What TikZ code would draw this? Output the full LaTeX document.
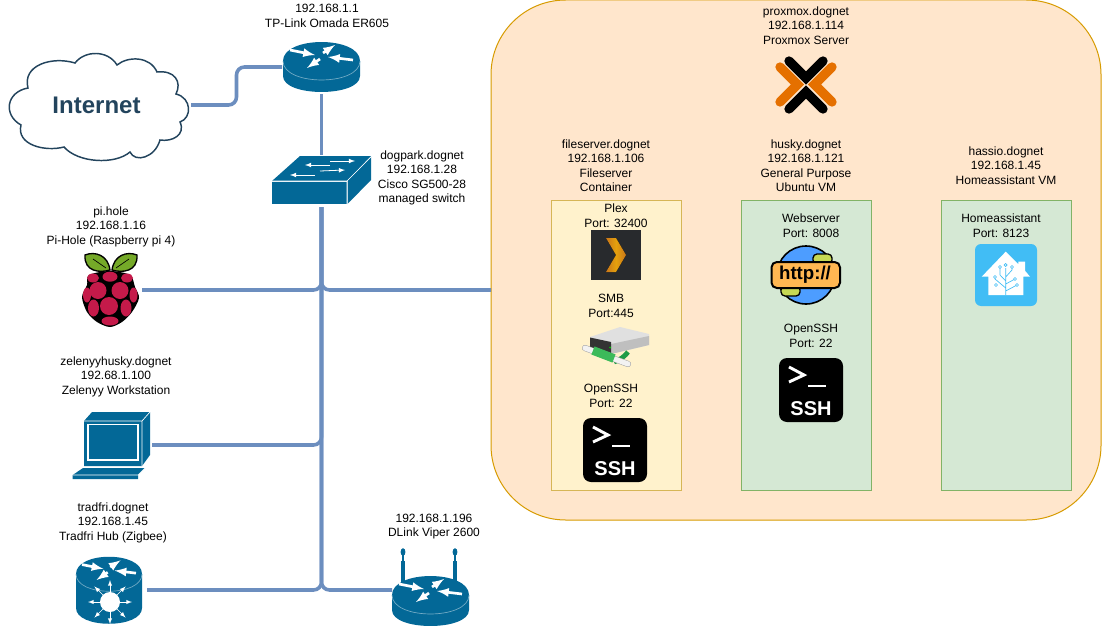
\documentclass[tikz,border=0pt]{standalone}
\usepackage{xcolor}
\usepackage{fontspec}
\setmainfont{Liberation Sans}
\usepackage{tikz}
\usetikzlibrary{arrows, positioning}

\definecolor{ciscoblue}{HTML}{036897}
\definecolor{linkblue}{HTML}{6C8EBF}
\definecolor{cloudline}{HTML}{23445D}
\definecolor{hostfill}{HTML}{FFE6CC}
\definecolor{hostline}{HTML}{D79B00}
\definecolor{ctfill}{HTML}{FFF2CC}
\definecolor{ctline}{HTML}{D6B656}
\definecolor{vmfill}{HTML}{D5E8D4}
\definecolor{vmline}{HTML}{82B366}
\definecolor{pxorange}{HTML}{E57000}
\definecolor{berry}{HTML}{C51A4A}
\definecolor{leaf}{HTML}{75A928}
\definecolor{hablue}{HTML}{41BDF5}
\definecolor{plexback}{HTML}{282A2D}
\definecolor{plexgold}{HTML}{E5A00D}
\definecolor{plexdark}{HTML}{C9771A}
\definecolor{globeblue}{HTML}{4D9DFF}
\definecolor{globeland}{HTML}{C6D854}
\definecolor{httpband}{HTML}{FFB752}
\definecolor{tubegreen}{HTML}{3CBA5A}
\definecolor{tubedark}{HTML}{1F9C46}

\tikzset{
	% Four arrows on a router top, around its centre
	pics/routerarrows/.style={code={
		\draw[white, line width=2pt, -latex] (-31.5,-11) -- (-6.5,-6);
		\draw[white, line width=2pt, -latex] (1.5,-8) -- (13.5,-16);
		\draw[white, line width=2pt, -latex] (31.5,-1) -- (6.5,-4);
		\draw[white, line width=2pt, -latex] (-1.5,-2) -- (-14.5,7);
	}},
	% Flat router, origin at the centre of its top
	pics/routericon/.style={code={
		\fill[ciscoblue] (-38.5,0) .. controls (-38.5,-25.3) and (38.5,-25.3) .. (38.5,0)
			-- (38.5,15) .. controls (38.5,36.3) and (-38.5,36.3) .. (-38.5,15) -- cycle;
		\draw[white!45!ciscoblue, line width=0.5pt] (-38.5,0) .. controls (-38.5,25.3) and (38.5,25.3) .. (38.5,0);
		\pic {routerarrows};
	}},
	% Terminal tile, origin at its centre
	pics/sshicon/.style={code={
		\fill[black, rounded corners=6pt] (-32,-32) rectangle (32,32);
		\draw[white, line width=2.2pt] (-22,-23) -- (-7,-15) -- (-22,-8);
		\draw[white, line width=2.2pt] (-3,-4) -- (15,-4);
		\node[text=white, font=\fontsize{15}{15}\selectfont\bfseries] (-text) at (0,19) {SSH};
	}}
}

\begin{document}
\begin{tikzpicture}[
		x=0.75pt,
		y=-0.75pt,
		every node/.style={inner sep=0pt, outer sep=0pt},
		desc/.style={align=center, font=\fontsize{9}{10.9}\selectfont},
		host box/.style={draw=hostline, fill=hostfill, line width=0.75pt, rounded corners=56pt, minimum width=457.5pt, minimum height=390pt},
		ct box/.style={draw=ctline, fill=ctfill, line width=0.75pt, minimum width=97.5pt, minimum height=217.5pt},
		vm box/.style={draw=vmline, fill=vmfill, line width=0.75pt, minimum width=97.5pt, minimum height=217.5pt},
		link/.style={draw=linkblue, line width=2.7pt, rounded corners=6pt}
		]

	\useasboundingbox (0,0) rectangle (1102,642);

	% Proxmox host and its three guests
	\node[host box] (host) at (796,260) {};
	\node[ct box] (fileserverbox) at (616,345) {};
	\node[vm box] (huskybox) at (806,345) {};
	\node[vm box] (hassiobox) at (1006,345) {};
	\coordinate (hostport) at (491,290);

	% Cloud
	\draw[cloudline, fill=white, line width=1.1pt]
		(21,125) .. controls (3,115) and (6,92) .. (28,88)
		.. controls (22,65) and (52,56) .. (75,63)
		.. controls (85,50) and (108,50) .. (117,65)
		.. controls (128,56) and (150,56) .. (157,72)
		.. controls (175,70) and (182,82) .. (176,94)
		.. controls (192,98) and (192,118) .. (180,122)
		.. controls (186,135) and (172,142) .. (160,140)
		.. controls (155,158) and (135,163) .. (130,152)
		.. controls (115,165) and (78,163) .. (64,147)
		.. controls (45,152) and (16,145) .. (21,125) -- cycle;
	\node[text=cloudline, font=\fontsize{18}{18}\selectfont\bfseries, minimum width=141.75pt, minimum height=75pt] (internet) at (96.5,105) {Internet};

	% Device boxes, only used as link ends
	\node[minimum width=59.25pt, minimum height=40.5pt] (router) at (321.5,67) {};
	\node[minimum width=74.25pt, minimum height=39pt] (switch) at (321.5,181) {};
	\node[minimum width=45pt, minimum height=54pt] (pi) at (112,290) {};
	\node[minimum width=59.25pt, minimum height=49.5pt] (laptop) at (112.5,445) {};
	\node[minimum width=53.25pt, minimum height=51pt] (tradfri) at (111.5,590) {};
	\node[minimum width=57.75pt, minimum height=61.5pt] (viper) at (430.5,590) {};

	% Links
	\draw[link] (internet.east) -- ++(45.5,0) |- (router.west);
	\draw[link] (router.south) -- (switch.north);
	\draw[link] (pi.east) -| (switch.south);
	\draw[link] (hostport) -| (switch.south);
	\draw[link] (laptop.east) -| (switch.south);
	\draw[link] (tradfri.east) -| (switch.south);
	\draw[link] (switch.south) |- (viper.west);

	% Router
	\pic at (321.5,61) {routericon};

	% Switch
	\fill[ciscoblue] (272,181) -- (300,156) -- (371,156) -- (347,181) -- cycle;
	\fill[ciscoblue] (272,181.5) rectangle (347,204);
	\fill[ciscoblue] (347.5,181) -- (371,157) -- (371,180) -- (347.5,204) -- cycle;
	\draw[white, line width=0.5pt] (272,181) -- (347,181) -- (347,204) (347,181) -- (371,157);
	\foreach \xa/\ya/\xb/\yb in {330/161/355/161, 330/165/305/165, 320/171/345/170, 315/175/290/175}{
		\draw[white, line width=0.6pt, -latex] (\xa,\ya) -- (\xb,\yb);
	}

	% Raspberry
	\fill[black] plot[smooth cycle] coordinates {(89,275) (110,271) (130,275) (135,287) (139,298) (132,312) (122,322) (110,327) (97,322) (87,312) (82,297) (87,285)};
	\draw[black, fill=leaf, line width=1pt] (85,255) .. controls (95,251) and (108,255) .. (110,270) .. controls (100,273) and (84,272) .. cycle;
	\draw[black, fill=leaf, line width=1pt] (137,255) .. controls (127,251) and (114,255) .. (112,270) .. controls (122,273) and (138,272) .. cycle;
	\draw[black, line width=0.5pt] (93,259) -- (106,268) (129,259) -- (116,268);
	\foreach \x/\y/\rx/\ry in {110/276.7/7.5/5, 93/278/6/4.5, 127/278/6/4.5, 98/290.5/8.5/8.5, 120/290.5/8.5/8.5, 109/306/9/9, 87/295/4/7.5, 133.5/295/4/7.5, 93.5/308/5.5/8.5, 126/308/5.5/8.5, 110/321/8.5/4.5}{
		\fill[berry] (\x,\y) ellipse [x radius=\rx, y radius=\ry];
	}

	% Laptop
	\fill[ciscoblue] (84,421) -- (92,412) -- (150,412) -- (150,455) -- (142,466) -- (84,466) -- cycle;
	\draw[white, line width=0.5pt] (84,421) -- (142,421) -- (150,412) (142,421) -- (142,466);
	\draw[white, line width=0.9pt] (88,424.5) rectangle (138,460);
	\fill[ciscoblue] (72.7,475) -- (83,468) -- (145,468) -- (138,475) -- (138,479) -- (72.7,479) -- cycle;
	\draw[white, line width=0.5pt] (72.7,475) -- (138,475) -- (145,468);

	% Zigbee hub
	\fill[ciscoblue] (76,574) .. controls (76,551) and (142,551) .. (142,574)
		-- (142,608) .. controls (142,629) and (76,629) .. (76,608) -- cycle;
	\draw[white!45!ciscoblue, line width=0.5pt] (76,574) .. controls (76,597) and (142,597) .. (142,574);
	\pic[scale=0.857] at (109,574) {routerarrows};
	\fill[white] (110,602) circle [radius=10];
	\foreach \a in {0, 45,...,315}{
		\draw[white, line width=0.5pt, -latex] (110,602) ++(\a:9) -- ++(\a:13);
	}

	% Wifi router
	\foreach \x in {403, 455}{
		\draw[ciscoblue, line width=0.9pt] (\x,552) -- (\x,562);
		\draw[ciscoblue, line width=2.4pt] (\x,561) -- (\x,582);
		\fill[ciscoblue] (\x,552) ellipse [x radius=2.4, y radius=3.8];
	}
	\pic at (430.5,595) {routericon};

	% Proxmox logo
	\draw[black, line width=7pt, line cap=round] (789,61) -- (806,78) -- (823,61);
	\draw[black, line width=7pt, line cap=round] (789,109) -- (806,92) -- (823,109);
	\draw[pxorange, line width=7pt, line cap=round] (780,67) -- (797.5,84.5) -- (780,102);
	\draw[pxorange, line width=7pt, line cap=round] (832,67) -- (814.5,84.5) -- (832,102);

	% Plex tile
	\fill[plexback] (591,230) rectangle (641,280);
	\fill[left color=plexdark, right color=plexdark, middle color=plexgold] (606,238) -- (616,238) -- (626,255) -- (616,272) -- (606,272) -- (616,255) -- cycle;

	% Network drive
	\fill[black!12] (590,337) -- (620,327) -- (649,334) -- (649,345) -- (611,354) -- (590,348) -- cycle;
	\fill[black!25] (611,344) -- (649,336) -- (649,345) -- (611,354) -- cycle;
	\fill[black!80] (590,337.5) -- (611,342) -- (611,354) -- (590,348) -- cycle;
	\fill[green!80!black] (610,347.5) circle [radius=1];
	\draw[tubedark, line width=3.6pt] (614,362) .. controls (620,360) and (625,356) .. (628,352);
	\draw[black!35, line width=4.6pt, line cap=round] (585,348) -- (628,364);
	\draw[black!5, line width=3.8pt, line cap=round] (585,348) -- (628,364);
	\draw[tubegreen, line width=6.5pt] (593,350.5) -- (614,358.5);

	% Web globe
	\draw[black, fill=globeblue, line width=1.2pt] (806,275) circle [radius=29];
	\draw[black, fill=globeland, line width=1pt, rounded corners=3pt] (813,254) rectangle (832,264);
	\draw[black, fill=globeland, line width=1pt, rounded corners=3pt] (781,286) rectangle (800,296);
	\draw[black, fill=httpband, line width=1.5pt, rounded corners=4pt] (771.5,262) rectangle (840,288);
	\node[text=black, font=\fontsize{14}{14}\selectfont\bfseries] (httptext) at (805,274.5) {http://};

	% Terminal tiles
	\pic (ssha) at (615,450) {sshicon};
	\pic (sshb) at (811,390) {sshicon};

	% Home assistant tile
	\fill[hablue, rounded corners=4.5pt] (975,244) rectangle (1037,306);
	\fill[white] (981.7,276.7) -- (1005.7,251.7) -- (1018.3,264.3) -- (1018.3,261.7) -- (1025,261.7) -- (1025,270.7) -- (1030,276.7) -- (1023.3,276.7) -- (1023.3,295) -- (988.3,295) -- (988.3,276.7) -- cycle;
	\draw[hablue, line width=0.5pt] (1005.7,295) -- (1005.7,268)
		(1005.7,288) -- (995,279) -- (995,277) (1005.7,281) -- (1000,275) -- (1000,267)
		(1005.7,284) -- (1015,279) (1005.7,277) -- (1012,270) -- (1012,267) (1005.7,291) -- (1017,285);
	\foreach \x/\y in {995/277, 1000/267, 1005.7/265, 1015/279, 1012/267, 1017/285, 996/285}{
		\draw[hablue, line width=0.5pt, fill=white] (\x,\y) circle [radius=1.5];
	}

	% Labels
	\node[desc] (routerlabel) at (327,15.7) {192.168.1.1\\TP-Link Omada ER605};
	\node[desc] (switchlabel) at (422,177.7) {dogpark.dognet\\192.168.1.28\\Cisco SG500-28\\managed switch};
	\node[desc] (pilabel) at (111,226.7) {pi.hole\\192.168.1.16\\Pi-Hole (Raspberry pi 4)};
	\node[desc] (laptoplabel) at (116,376.7) {zelenyyhusky.dognet\\192.68.1.100\\Zelenyy Workstation};
	\node[desc] (tradfrilabel) at (113,522.7) {tradfri.dognet\\192.168.1.45\\Tradfri Hub (Zigbee)};
	\node[desc] (viperlabel) at (434,526.7) {192.168.1.196\\DLink Viper 2600};
	\node[desc] (hostlabel) at (806,25.7) {proxmox.dognet\\192.168.1.114\\Proxmox Server};
	\node[desc] (fileserverlabel) at (606,165.7) {fileserver.dognet\\192.168.1.106\\Fileserver\\Container};
	\node[desc] (huskylabel) at (806,165.7) {husky.dognet\\192.168.1.121\\General Purpose\\Ubuntu VM};
	\node[desc] (hassiolabel) at (1006,165.7) {hassio.dognet\\192.168.1.45\\Homeassistant VM};
	\node[desc] (plexlabel) at (616,215.7) {Plex\\Port: 32400};
	\node[desc] (smblabel) at (611,305.7) {SMB\\Port:445};
	\node[desc] (sshlabela) at (611,395.7) {OpenSSH\\Port: 22};
	\node[desc] (weblabel) at (811,225.7) {Webserver\\Port: 8008};
	\node[desc] (sshlabelb) at (811,335.7) {OpenSSH\\Port: 22};
	\node[desc] (halabel) at (1001,225.7) {Homeassistant\\Port: 8123};

\end{tikzpicture}
\end{document}
